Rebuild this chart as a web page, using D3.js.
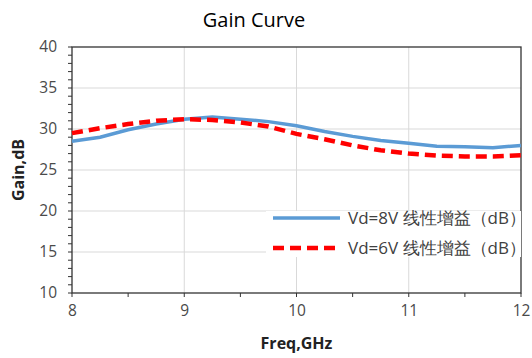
<!DOCTYPE html>
<html>
<head>
<meta charset="utf-8">
<script src="https://cdn.jsdelivr.net/npm/d3@7"></script>
<style>
  body { margin: 0; background: #fff; }
  text { font-family: "Open Sans", "Noto Sans", sans-serif; }
</style>
</head>
<body>
<script>
// gain vs frequency, two drain voltages
var freq = [8, 8.25, 8.5, 8.75, 9, 9.25, 9.5, 9.75, 10, 10.25, 10.5, 10.75, 11, 11.25, 11.5, 11.75, 12];
var gain8V = [28.5, 29.0, 29.9, 30.6, 31.2, 31.45, 31.2, 30.9, 30.4, 29.7, 29.1, 28.6, 28.25, 27.9, 27.85, 27.7, 28.0];
var gain6V = [29.5, 30.1, 30.6, 31.0, 31.2, 31.1, 30.8, 30.3, 29.4, 28.75, 28.0, 27.4, 27.0, 26.75, 26.65, 26.65, 26.8];
var seriesNames = ['Vd=8V 线性增益（dB）', 'Vd=6V 线性增益（dB）'];
var xTicks = [8, 9, 10, 11, 12];
var yTicks = [10, 15, 20, 25, 30, 35, 40];

var W = 532, H = 358;
var m = {left: 72, right: 11, top: 47, bottom: 65};
var w = W - m.left - m.right, h = H - m.top - m.bottom;

var svg = d3.select('body').append('svg')
	.attr('width', W)
	.attr('height', H);

var x = d3.scaleLinear().domain([8, 12]).range([0, w]);
var y = d3.scaleLinear().domain([10, 40]).range([h, 0]);

var g = svg.append('g').attr('transform', 'translate(' + m.left + ',' + m.top + ')');

// grid
g.append('g').selectAll('line').data(xTicks.slice(1, -1)).join('line')
	.attr('x1', d => x(d)).attr('x2', d => x(d))
	.attr('y1', 0).attr('y2', h)
	.attr('stroke', '#d9d9d9');
g.append('g').selectAll('line').data(yTicks.slice(1, -1)).join('line')
	.attr('x1', 0).attr('x2', w)
	.attr('y1', d => y(d)).attr('y2', d => y(d))
	.attr('stroke', '#d9d9d9');

// minor ticks
var yMinor = d3.range(10, 40.01, 1);
var xMinor = d3.range(8, 12.01, 0.5);
g.append('g').selectAll('line').data(yMinor).join('line')
	.attr('x1', -4).attr('x2', 0)
	.attr('y1', d => y(d)).attr('y2', d => y(d))
	.attr('stroke', '#333');
g.append('g').selectAll('line').data(xMinor).join('line')
	.attr('x1', d => x(d)).attr('x2', d => x(d))
	.attr('y1', h).attr('y2', h + 4)
	.attr('stroke', '#333');

// axes
var xAxis = d3.axisBottom(x).tickValues(xTicks).tickFormat(d3.format('d')).tickSize(0).tickPadding(12);
var yAxis = d3.axisLeft(y).tickValues(yTicks).tickSize(0).tickPadding(15);
g.append('g').attr('transform', 'translate(0,' + h + ')').call(xAxis)
	.call(s => s.select('.domain').remove())
	.selectAll('text').attr('font-size', 15.5).attr('fill', '#4a4a4a')
	.attr('font-family', '"Open Sans", sans-serif');
g.append('g').call(yAxis)
	.call(s => s.select('.domain').remove())
	.selectAll('text').attr('font-size', 15.5).attr('fill', '#4a4a4a')
	.attr('font-family', '"Open Sans", sans-serif');

// frame
g.append('rect').attr('width', w).attr('height', h)
	.attr('fill', 'none').attr('stroke', '#333').attr('stroke-width', 1.3);

// lines
var line = d3.line().x(d => x(d[0])).y(d => y(d[1]));
g.append('path').datum(d3.zip(freq, gain8V))
	.attr('d', line).attr('fill', 'none')
	.attr('stroke', '#5b9bd5').attr('stroke-width', 3.5);
g.append('path').datum(d3.zip(freq, gain6V))
	.attr('d', line).attr('fill', 'none')
	.attr('stroke', '#ff0000').attr('stroke-width', 4.5)
	.attr('stroke-dasharray', '11,6');

// legend
var lg = g.append('g').attr('transform', 'translate(194,164)');
lg.append('rect').attr('x', 0).attr('y', 0).attr('width', w - 194).attr('height', 46).attr('fill', '#fff');
var styles = [{c: '#5b9bd5', sw: 3.5, dash: null}, {c: '#ff0000', sw: 4.5, dash: '11,6'}];
seriesNames.forEach(function(name, i) {
	var yy = 7 + i * 30;
	lg.append('line').attr('x1', 7).attr('x2', 74).attr('y1', yy).attr('y2', yy)
		.attr('stroke', styles[i].c).attr('stroke-width', styles[i].sw)
		.attr('stroke-dasharray', styles[i].dash);
	lg.append('text').attr('x', 82).attr('y', yy).attr('dy', '0.35em')
		.attr('font-size', 17).attr('fill', '#404040')
		.attr('font-family', '"Noto Sans CJK SC", "Noto Sans", sans-serif')
		.text(name);
});

// titles
svg.append('text').attr('x', 254).attr('y', 20).attr('dy', '0.35em')
	.attr('text-anchor', 'middle').attr('font-size', 20).attr('fill', '#000')
	.text('Gain Curve');
svg.append('text').attr('transform', 'translate(18,' + (m.top + h / 2) + ') rotate(-90)')
	.attr('text-anchor', 'middle').attr('dy', '0.35em')
	.attr('font-size', 16).attr('font-weight', 'bold').attr('fill', '#222')
	.text('Gain,dB');
svg.append('text').attr('x', m.left + w / 2).attr('y', 343).attr('dy', '0.35em')
	.attr('text-anchor', 'middle').attr('font-size', 16).attr('font-weight', 'bold').attr('fill', '#222')
	.text('Freq,GHz');
</script>
</body>
</html>
